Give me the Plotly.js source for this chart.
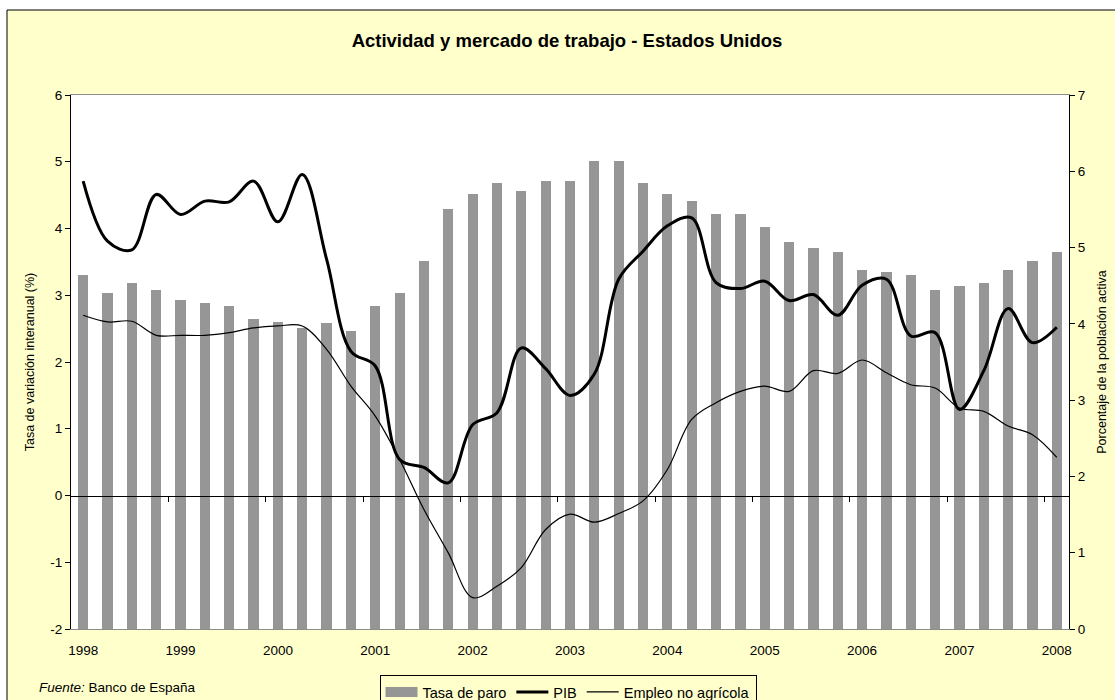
<!DOCTYPE html>
<html>
<head>
<meta charset="utf-8">
<script src="https://cdn.plot.ly/plotly-3.0.1.min.js"></script>
<style>html,body{margin:0;padding:0;background:#fff;}#chart{width:1115px;height:700px;}</style>
</head>
<body>
<div id="chart"></div>
<script>
// Quarterly data, 1998 Q1 .. 2008 Q1
var quarters = [];
for (var yr = 1998; yr <= 2008; yr++) { for (var q = 1; q <= 4; q++) { if (yr === 2008 && q > 1) break; quarters.push(yr + ' T' + q); } }
var idx = quarters.map(function (_, i) { return i; });

var yearLabels = ['1998','1999','2000','2001','2002','2003','2004','2005','2006','2007','2008'];
var yearTickPos = [0,4,8,12,16,20,24,28,32,36,40];
var boundaryTicks = [3.5,7.5,11.5,15.5,19.5,23.5,27.5,31.5,35.5,39.5];
var leftTickVals = [-2,-1,0,1,2,3,4,5,6];
var leftTickText = ['-2','-1','0','1','2','3','4','5','6'];

// Tasa de paro (% población activa) - right axis
var tasaParo = [4.64,4.40,4.53,4.44,4.31,4.27,4.23,4.07,4.03,3.95,4.01,3.90,
                4.23,4.40,4.83,5.50,5.70,5.84,5.74,5.87,5.87,6.14,6.14,5.84,
                5.70,5.61,5.44,5.44,5.27,5.07,5.00,4.94,4.70,4.68,4.64,4.44,
                4.50,4.53,4.70,4.83,4.94];
// PIB (tasa de variación interanual, %) - left axis
var pib = [4.71,3.81,3.68,4.51,4.21,4.41,4.40,4.71,4.10,4.81,3.54,2.16,
           1.94,0.54,0.42,0.19,1.06,1.24,2.21,1.90,1.50,1.82,3.24,3.66,
           4.04,4.16,3.19,3.10,3.21,2.92,3.01,2.70,3.15,3.24,2.39,2.44,
           1.29,1.87,2.80,2.29,2.52];
// Empleo no agrícola (tasa de variación interanual, %) - left axis
var empleo = [2.70,2.60,2.61,2.40,2.40,2.40,2.44,2.51,2.54,2.54,2.19,1.64,
              1.19,0.54,-0.21,-0.86,-1.53,-1.36,-1.08,-0.51,-0.28,-0.40,-0.27,-0.08,
              0.39,1.14,1.39,1.56,1.64,1.56,1.87,1.83,2.03,1.84,1.66,1.61,
              1.31,1.26,1.04,0.91,0.57];

var FONT = 'Arial, "Liberation Sans", sans-serif';
var BG = '#FFFFCC';
var BARCOL = '#969696';

var traces = [
  { // legend entry for bars (wide grey swatch)
    x: [null], y: [null], type: 'scatter', mode: 'lines', name: 'Tasa de paro',
    legendgroup: 'paro', line: { color: BARCOL, width: 11 }, xaxis: 'x', yaxis: 'y', hoverinfo: 'skip'
  },
  {
    x: idx, y: tasaParo, type: 'bar', name: 'Tasa de paro', legendgroup: 'paro', showlegend: false,
    marker: { color: BARCOL, line: { width: 0 } }, width: 0.42, xaxis: 'x', yaxis: 'y'
  },
  {
    x: idx, y: pib, type: 'scatter', mode: 'lines', name: 'PIB',
    line: { color: '#000', width: 3, shape: 'spline', smoothing: 1 }, xaxis: 'x', yaxis: 'y2'
  },
  {
    x: idx, y: empleo, type: 'scatter', mode: 'lines', name: 'Empleo no agrícola',
    line: { color: '#000', width: 1.2, shape: 'spline', smoothing: 1 }, xaxis: 'x2', yaxis: 'y2'
  }
];

var layout = {
  width: 1115, height: 700,
  margin: { l: 71, r: 46, t: 95, b: 71, pad: 0, autoexpand: false },
  paper_bgcolor: '#ffffff', plot_bgcolor: '#ffffff',
  font: { family: FONT, size: 13, color: '#000' },
  showlegend: true,
  bargap: 0,
  title: {
    text: '<b>Actividad y mercado de trabajo - Estados Unidos</b>',
    font: { family: FONT, size: 18.5, color: '#000' },
    x: 0.497, xref: 'paper', xanchor: 'center',
    y: 1 - 41 / 700, yref: 'container', yanchor: 'middle'
  },
  xaxis: {
    range: [-0.5, 40.5], fixedrange: true,
    tickmode: 'array', tickvals: yearTickPos, ticktext: yearLabels,
    ticks: 'outside', ticklen: 9, tickcolor: 'rgba(0,0,0,0)',
    showline: true, linecolor: '#8c8c8c', linewidth: 1, mirror: true,
    showgrid: false, zeroline: false,
    tickfont: { family: FONT, size: 13.5, color: '#000' }
  },
  xaxis2: {
    overlaying: 'x', anchor: 'free', position: 0.25,
    range: [-0.5, 40.5], fixedrange: true,
    tickmode: 'array', tickvals: boundaryTicks, showticklabels: false,
    ticks: 'outside', ticklen: 5, tickcolor: '#000', tickwidth: 1,
    showline: true, linecolor: '#000', linewidth: 1,
    showgrid: false, zeroline: false
  },
  yaxis: {
    side: 'right', range: [0, 7], dtick: 1, tick0: 0, fixedrange: true,
    ticks: 'outside', ticklen: 5, tickcolor: '#000',
    showline: true, linecolor: '#000', linewidth: 1,
    showgrid: false, zeroline: false,
    tickfont: { family: FONT, size: 13.5, color: '#000' },
    title: { text: 'Porcentaje de la población activa', font: { family: FONT, size: 12.5, color: '#000' }, standoff: 12 }
  },
  yaxis2: {
    overlaying: 'y', side: 'left', range: [-2, 6], fixedrange: true,
    tickmode: 'array', tickvals: leftTickVals, ticktext: leftTickText,
    ticks: 'outside', ticklen: 5, tickcolor: '#000',
    showline: true, linecolor: '#000', linewidth: 1,
    showgrid: false, zeroline: false,
    tickfont: { family: FONT, size: 13.5, color: '#000' },
    title: { text: 'Tasa de variación interanual (%)', font: { family: FONT, size: 12.5, color: '#000' }, standoff: 12 }
  },
  legend: {
    orientation: 'h', x: 0.498, xanchor: 'center', xref: 'paper',
    y: 1 - 675 / 700, yanchor: 'top', yref: 'container',
    bgcolor: BG, bordercolor: '#000', borderwidth: 1,
    font: { family: FONT, size: 14.5, color: '#000' },
    itemwidth: 32, traceorder: 'normal', tracegroupgap: 0
  },
  shapes: [
    { type: 'rect', xref: 'paper', yref: 'paper', layer: 'below',
      x0: (7 - 71) / 998, x1: (1125 - 71) / 998, y0: (629 - 710) / 534, y1: (629 - 10) / 534,
      fillcolor: BG, line: { color: '#000', width: 1 } },
    { type: 'rect', xref: 'paper', yref: 'paper', layer: 'below',
      x0: 0, x1: 1, y0: 0, y1: 1, fillcolor: '#ffffff', line: { width: 0 } }
  ],
  annotations: [
    { xref: 'paper', yref: 'paper', x: (37 - 71) / 998, y: (629 - 687) / 534,
      xanchor: 'left', yanchor: 'middle', showarrow: false,
      text: '<i>Fuente:</i> Banco de España', font: { family: FONT, size: 13.5, color: '#000' } }
  ]
};

Plotly.newPlot('chart', traces, layout, { displayModeBar: false, staticPlot: true });
</script>
</body>
</html>
